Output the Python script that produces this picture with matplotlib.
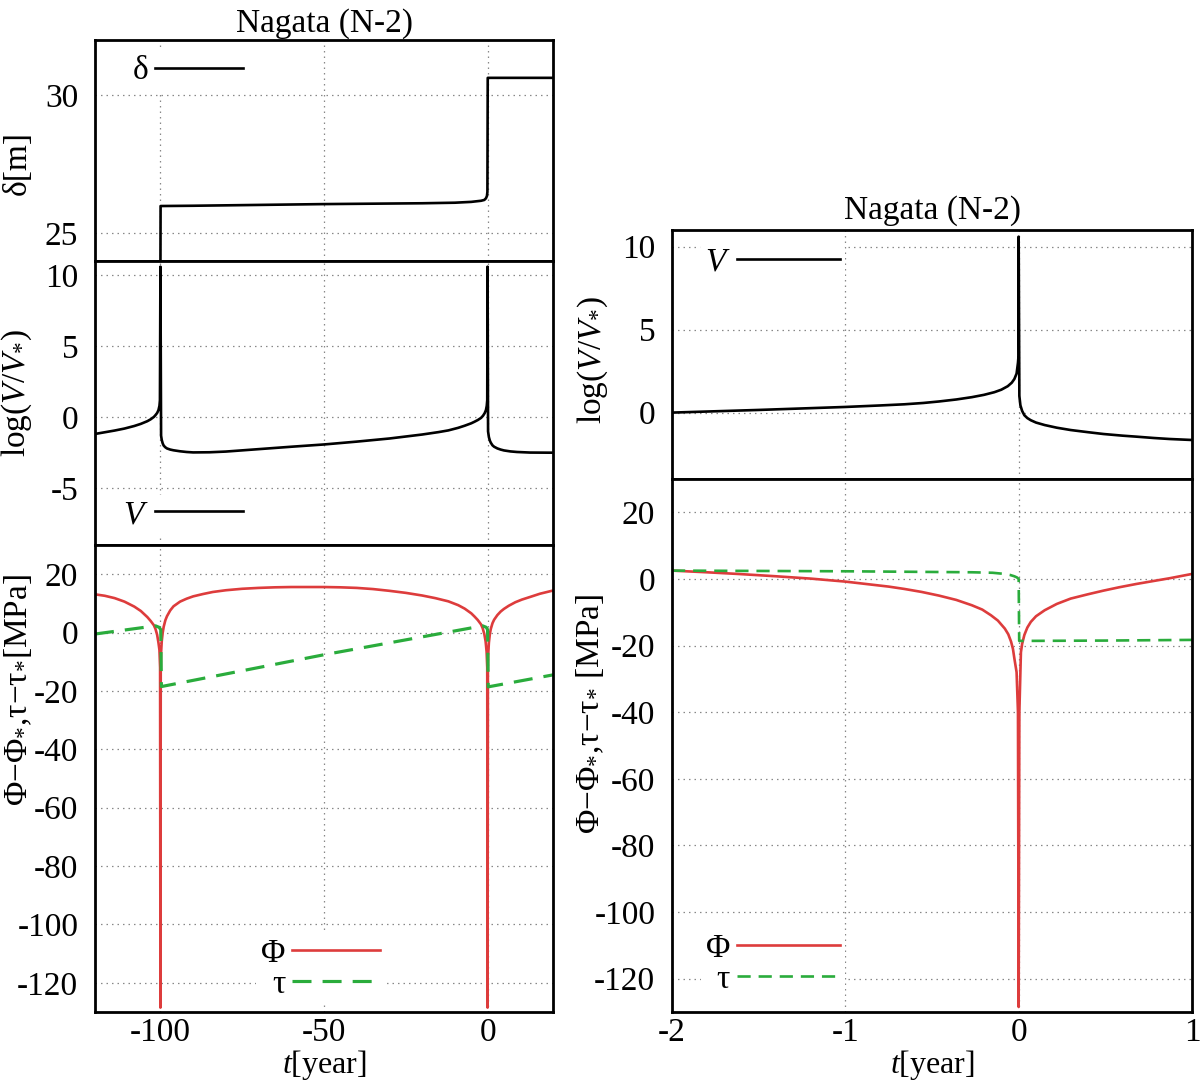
import matplotlib
matplotlib.use("Agg")
import matplotlib.pyplot as plt

plt.rcParams['font.family'] = ['Liberation Serif', 'DejaVu Serif']
plt.rcParams['mathtext.fontset'] = 'custom'
plt.rcParams['mathtext.rm'] = 'Liberation Serif'
plt.rcParams['mathtext.it'] = 'Liberation Serif:italic'
plt.rcParams['axes.unicode_minus'] = False

# ---------------- data: left column (long time window) ----------------
t_delta = [-120, -100.05, -99.95, -90, -70, -50, -30, -20, -10, -5, -2, -1, -0.5, -0.2, -0.05, 0.05, 20]
delta = [21.4, 21.45, 25.99, 26.0, 26.03, 26.06, 26.08, 26.09, 26.11, 26.14, 26.18, 26.21, 26.27, 26.35, 26.5, 30.63, 30.63]

t_vl = [-120, -117, -114, -111, -108, -106, -104, -103, -102, -101.5, -101, -100.6, -100.3, -100.15, -100.0,
        -99.8, -99.6, -99.3, -99.0, -98.5, -98, -97, -96, -94, -92, -90, -85, -80, -70, -60, -50, -40, -30,
        -20, -15, -12, -9, -7, -5, -4, -3, -2, -1.4, -0.9, -0.5, -0.25, -0.1, 0.0,
        0.15, 0.4, 0.7, 1.0, 1.5, 2, 3, 4, 5, 7, 9, 13, 20]
logv_l = [-1.18, -1.06, -0.94, -0.8, -0.62, -0.47, -0.28, -0.15, 0.02, 0.15, 0.3, 0.5, 0.8, 1.2, 10.6,
          -1.3, -1.6, -1.85, -2.0, -2.12, -2.2, -2.28, -2.33, -2.4, -2.45, -2.48, -2.47, -2.42, -2.25, -2.08, -1.92, -1.72, -1.5,
          -1.22, -1.05, -0.93, -0.75, -0.6, -0.43, -0.32, -0.2, -0.05, 0.1, 0.28, 0.5, 0.8, 1.2, 10.6,
          -1.0, -1.4, -1.65, -1.8, -1.98, -2.08, -2.2, -2.28, -2.34, -2.41, -2.45, -2.49, -2.5]

t_phil = [-120, -117, -114, -111, -108, -106, -104, -103, -102, -101.5, -101, -100.6, -100.3, -100.1, -100.0,
          -99.9, -99.8, -99.6, -99.3, -99, -98.5, -98, -97, -96, -94, -92, -90, -87, -84, -80, -75, -70, -65,
          -60, -55, -50, -45, -40, -35, -30, -25, -20, -16, -12, -9, -7, -5, -4, -3, -2, -1.5, -1, -0.6, -0.3,
          -0.1, 0.0, 0.1, 0.2, 0.4, 0.7, 1.0, 1.5, 2, 3, 4, 5, 6.5, 8.5, 10.5, 13, 16, 20]
phi_l = [13.1, 12.6, 11.8, 10.6, 8.9, 7.4, 5.3, 4.0, 2.5, 1.2, -0.8, -3.5, -6.0, -12, -128.5,
         -12, -7, -3.0, 0.0, 2.0, 4.2, 5.6, 7.6, 9.0, 10.6, 11.6, 12.4, 13.2, 13.9, 14.5, 15.0, 15.3, 15.5,
         15.6, 15.6, 15.6, 15.5, 15.3, 14.9, 14.3, 13.6, 12.7, 11.8, 10.7, 9.4, 8.2, 6.6, 5.5, 4.3, 2.8, 1.5, -0.5, -3, -6.5,
         -12, -128.5, -12, -7.5, -3.5, -0.5, 1.3, 3.2, 4.4, 6.0, 7.2, 8.1, 9.2, 10.4, 11.3, 12.2, 13.3, 14.4]

t_taul = [-120, -101.5, -100.4, -99.9, -99.7, -50, -1.5, -0.4, 0.0, 0.2, 20]
tau_l = [-0.5, 2.3, 1.8, 1.0, -18.5, -7.6, 2.3, 1.8, 1.0, -18.6, -14.5]

# ---------------- data: right column (zoom around t = 0) ----------------
t_vr = [-2, -1.75, -1.5, -1.25, -1, -0.8, -0.66, -0.55, -0.46, -0.36, -0.27, -0.2, -0.14, -0.1, -0.063, -0.04,
        -0.025, -0.012, -0.004, -0.001, 0.0, 0.004, 0.01, 0.02, 0.033, 0.05, 0.07, 0.1, 0.15, 0.22, 0.3, 0.4,
        0.49, 0.6, 0.68, 0.78, 0.87, 1.0]
logv_r = [0.0, 0.08, 0.16, 0.25, 0.34, 0.43, 0.5, 0.58, 0.67, 0.79, 0.93, 1.07, 1.23, 1.38, 1.59, 1.8,
          2.02, 2.35, 3.0, 3.4, 10.6, 1.0, 0.44, 0.1, -0.16, -0.33, -0.46, -0.6, -0.75, -0.91, -1.05, -1.18,
          -1.29, -1.39, -1.45, -1.53, -1.59, -1.65]

t_phir = [-2, -1.8, -1.62, -1.4, -1.2, -1, -0.85, -0.75, -0.66, -0.56, -0.46, -0.36, -0.27, -0.21, -0.16, -0.12,
          -0.08, -0.06, -0.044, -0.033, -0.025, -0.012, -0.004, 0.0, 0.004, 0.013, 0.02, 0.033, 0.05, 0.07, 0.1,
          0.15, 0.22, 0.3, 0.4, 0.49, 0.58, 0.68, 0.78, 0.87, 1.0]
phi_r = [2.5, 2.0, 1.5, 0.8, 0.1, -0.8, -1.7, -2.3, -3.0, -3.9, -5.0, -6.3, -7.9, -9.2, -10.9, -12.5,
         -14.9, -16.6, -18.8, -21.0, -23.8, -28, -40, -128.5, -40, -22, -19.5, -16.8, -14.6, -12.9, -11.2,
         -9.4, -7.5, -5.9, -4.6, -3.5, -2.5, -1.5, -0.6, 0.2, 1.5]

t_taur = [-2, -1, -0.27, -0.15, -0.08, -0.05, -0.025, -0.01, 0.0, 0.003, 0.05, 0.5, 1.0]
tau_r = [2.5, 2.3, 2.0, 1.85, 1.5, 1.2, 0.8, 0.45, 0.0, -18.6, -18.6, -18.5, -18.3]

xticks_l = [-100, -50, 0]
xticks_r = [-2, -1, 0, 1]
yticks_delta = [25, 30]
yticks_vl = [-5, 0, 5, 10]
yticks_vr = [0, 5, 10]
yticks_phi = [-120, -100, -80, -60, -40, -20, 0, 20]

title = 'Nagata (N-2)'

# ---------------- styling ----------------
FS = 24
RED = '#dd3c3c'
GREEN = '#2aac3c'
LW = 1.9
W, H = 1200, 1084
BOT = 1012

fig = plt.figure(figsize=(W / 100, H / 100), dpi=100)


def box(x0, y0, x1, y1):
    return [x0 / W, 1 - y1 / H, (x1 - x0) / W, (y1 - y0) / H]


def style(ax, xlim, ylim, xt, yt, show_x):
    ax.set_xlim(*xlim)
    ax.set_ylim(*ylim)
    ax.set_xticks(xt)
    ax.set_yticks(yt)
    ax.grid(True, color='#888888', linestyle=(0, (1.2, 3.2)), linewidth=0.9)
    ax.tick_params(axis='both', direction='in', length=0, labelsize=FS)
    ax.tick_params(axis='x', pad=4)
    ax.tick_params(axis='y', pad=12)
    if not show_x:
        ax.tick_params(axis='x', labelbottom=False)
    for s in ax.spines.values():
        s.set_linewidth(2.0)


def legend(ax, x, y, hl, spacing=0.0):
    lg = ax.legend(loc='center right', bbox_to_anchor=(x, y), markerfirst=False, frameon=True,
                   fontsize=FS, handlelength=hl, handletextpad=0.2, borderpad=0.15,
                   borderaxespad=0, labelspacing=spacing)
    fr = lg.get_frame()
    fr.set_facecolor('white')
    fr.set_edgecolor('none')
    fr.set_alpha(1)
    return lg


# left column
L0, L1 = 95, 553
ax1 = fig.add_axes(box(L0, 40, L1, 261))
ax2 = fig.add_axes(box(L0, 261, L1, 545))
ax3 = fig.add_axes(box(L0, 545, L1, BOT))

ax1.plot(t_delta, delta, color='black', lw=LW, label='δ')
style(ax1, (-120, 20), (24, 32), xticks_l, yticks_delta, False)
ax1.set_ylabel('δ[m]', fontsize=FS)
ax1.yaxis.set_label_coords(-0.135, 0.443)
ax1.set_title(title, fontsize=FS, pad=6)
legend(ax1, 0.334, 0.86, 2.64)

ax2.plot(t_vl, logv_l, color='black', lw=LW, label='$V$')
style(ax2, (-120, 20), (-9, 11), xticks_l, yticks_vl, False)
ax2.set_ylabel(r'log($V$/$V_{*}$)', fontsize=FS)
ax2.yaxis.set_label_coords(-0.133, 0.535)
legend(ax2, 0.334, 0.106, 2.64)

ax3.plot(t_phil, phi_l, color=RED, lw=LW, label='Φ')
ax3.plot(t_taul, tau_l, color=GREEN, lw=LW * 1.2, dashes=(6, 3.5), label='τ')
style(ax3, (-120, 20), (-130, 30), xticks_l, yticks_phi, True)
ax3.set_ylabel(r'Φ$-$Φ$_{*}$,τ$-$τ$_{*}$[MPa]', fontsize=FS)
ax3.yaxis.set_label_coords(-0.133, 0.69)
ax3.set_xlabel(r'$t$[year]', fontsize=23, labelpad=0)
legend(ax3, 0.633, 0.092, 2.64)

# right column
R0, R1 = 672, 1192
ax4 = fig.add_axes(box(R0, 230, R1, 479))
ax5 = fig.add_axes(box(R0, 479, R1, BOT))

ax4.plot(t_vr, logv_r, color='black', lw=LW, label='$V$')
style(ax4, (-2, 1), (-4, 11), xticks_r, yticks_vr, False)
ax4.set_ylabel(r'log($V$/$V_{*}$)', fontsize=FS)
ax4.yaxis.set_label_coords(-0.119, 0.478)
ax4.set_title(title, fontsize=FS, pad=8)
legend(ax4, 0.333, 0.871, 3.1)

ax5.plot(t_phir, phi_r, color=RED, lw=LW, label='Φ')
ax5.plot(t_taur, tau_r, color=GREEN, lw=LW, dashes=(5, 3), label='τ')
style(ax5, (-2, 1), (-130, 30), xticks_r, yticks_phi, True)
ax5.set_ylabel(r'Φ$-$Φ$_{*}$,τ$-$τ$_{*}$ [MPa]', fontsize=FS)
ax5.yaxis.set_label_coords(-0.127, 0.56)
ax5.set_xlabel(r'$t$[year]', fontsize=23, labelpad=0)
legend(ax5, 0.333, 0.09, 3.1)

fig.savefig('out.png', dpi=100)
